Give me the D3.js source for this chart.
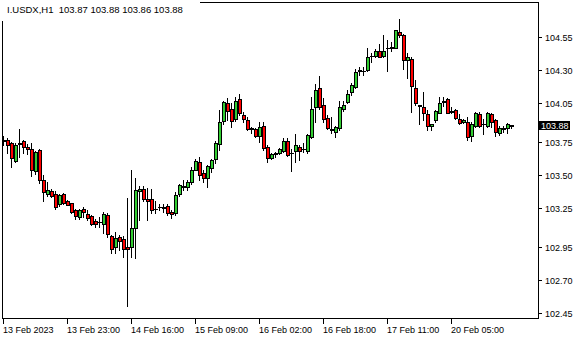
<!DOCTYPE html>
<html>
<meta charset="utf-8">
<style type="text/css">
  body { margin: 0; background: #fff; }
  text { font-family: "Liberation Sans", Arial, sans-serif; font-size: 9px; }
</style>
<body>
<div id="chart"></div>
<script src="https://cdn.jsdelivr.net/npm/d3@7"></script>
<script>
  const symbol = "I.USDX,H1";

  // hourly bars
  const opens = [103.76,103.77,103.74,103.61,103.735,103.76,103.715,103.70,103.53,103.69,
    103.46,103.355,103.38,103.355,103.28,103.355,103.30,103.285,103.235,103.18,
    103.24,103.205,103.19,103.15,103.14,103.13,103.195,103.035,102.955,103.025,
    103.015,102.95,102.955,103.095,103.38,103.39,103.315,103.315,103.245,103.26,
    103.255,103.265,103.22,103.21,103.355,103.41,103.405,103.45,103.54,103.60,
    103.515,103.48,103.55,103.625,103.735,103.91,104.045,104.00,103.925,104.075,
    103.96,103.92,103.85,103.85,103.795,103.87,103.71,103.63,103.66,103.665,
    103.685,103.755,103.67,103.685,103.71,103.695,103.68,103.79,104.015,104.16,
    104.035,103.93,103.85,103.83,103.855,104.00,104.055,104.135,104.17,104.295,
    104.295,104.30,104.405,104.405,104.44,104.405,104.465,104.465,104.47,104.59,
    104.565,104.375,104.38,104.16,104.03,104.02,103.965,103.87,103.915,103.975,
    104.055,104.075,103.98,103.995,103.925,103.905,103.90,103.80,103.875,103.965,
    103.885,103.875,103.965,103.915,103.82,103.85,103.855,103.87];
  const highs = [103.80,103.78,103.75,103.74,103.85,103.77,103.735,103.74,103.685,103.70,
    103.50,103.45,103.39,103.375,103.355,103.365,103.31,103.29,103.245,103.24,
    103.255,103.235,103.195,103.165,103.18,103.22,103.21,103.045,103.07,103.045,
    103.035,103.325,103.54,103.475,103.415,103.415,103.40,103.39,103.30,103.28,
    103.28,103.28,103.235,103.37,103.435,103.46,103.465,103.56,103.625,103.64,
    103.54,103.575,103.625,103.76,103.995,104.065,104.085,104.05,104.09,104.12,
    103.98,103.94,103.865,103.86,103.90,103.90,103.73,103.665,103.675,103.705,
    103.785,103.785,103.70,103.815,103.73,103.745,103.815,104.095,104.19,104.25,
    104.085,103.955,103.945,103.875,104.06,104.06,104.145,104.20,104.305,104.325,
    104.32,104.465,104.425,104.455,104.50,104.565,104.525,104.515,104.605,104.685,
    104.575,104.425,104.395,104.225,104.035,104.135,103.995,103.89,103.995,104.095,
    104.095,104.085,104.02,104.00,103.965,103.925,103.945,103.905,103.98,103.98,
    103.925,103.98,103.97,103.925,103.875,103.875,103.895,103.88];
  const lows = [103.73,103.67,103.56,103.60,103.64,103.665,103.66,103.49,103.51,103.44,
    103.30,103.34,103.33,103.24,103.265,103.28,103.27,103.21,103.165,103.165,
    103.18,103.155,103.12,103.105,103.105,103.055,103.025,102.91,102.91,102.93,
    102.875,102.50,102.875,102.865,103.155,103.305,103.16,103.21,103.21,103.235,
    103.22,103.195,103.17,103.195,103.34,103.385,103.385,103.43,103.535,103.46,
    103.45,103.41,103.525,103.59,103.69,103.89,103.92,103.865,103.91,103.955,
    103.905,103.84,103.82,103.79,103.75,103.69,103.60,103.62,103.64,103.66,
    103.675,103.645,103.53,103.60,103.615,103.675,103.67,103.78,103.90,104.005,
    103.905,103.85,103.82,103.79,103.845,103.99,104.05,104.11,104.165,104.26,
    104.26,104.295,104.36,104.40,104.395,104.40,104.295,104.44,104.465,104.55,
    104.31,104.235,103.98,104.03,103.89,103.92,103.845,103.84,103.905,103.97,
    104.025,103.97,103.975,103.925,103.89,103.895,103.77,103.755,103.865,103.865,
    103.815,103.865,103.865,103.80,103.805,103.83,103.82,103.86];
  const closes = [103.77,103.73,103.63,103.73,103.74,103.71,103.70,103.54,103.675,103.46,
    103.37,103.385,103.34,103.26,103.345,103.285,103.275,103.22,103.19,103.23,
    103.215,103.175,103.13,103.13,103.145,103.20,103.05,102.94,103.02,103.00,
    102.94,102.94,103.10,103.385,103.39,103.32,103.305,103.235,103.245,103.255,
    103.25,103.21,103.20,103.35,103.425,103.415,103.45,103.54,103.61,103.50,
    103.475,103.57,103.615,103.745,103.905,104.055,103.99,103.91,104.06,103.975,
    103.925,103.85,103.86,103.80,103.865,103.705,103.63,103.66,103.665,103.695,
    103.76,103.65,103.665,103.73,103.685,103.695,103.805,104.00,104.15,104.02,
    103.925,103.855,103.845,103.865,104.015,104.03,104.12,104.185,104.285,104.30,
    104.295,104.395,104.405,104.445,104.40,104.445,104.465,104.475,104.60,104.565,
    104.375,104.395,104.175,104.045,104.025,103.975,103.87,103.885,103.99,104.05,
    104.065,103.975,103.985,103.93,103.895,103.915,103.79,103.89,103.975,103.875,
    103.89,103.975,103.90,103.83,103.86,103.855,103.885,103.88];

  const priceTicks = [104.55, 104.30, 104.05, 103.75, 103.50, 103.25, 102.95, 102.70, 102.45];
  const timeLabels = ["13 Feb 2023", "13 Feb 23:00", "14 Feb 16:00", "15 Feb 09:00",
    "16 Feb 02:00", "16 Feb 18:00", "17 Feb 11:00", "20 Feb 05:00"];
  const barsPerLabel = 16;

  const width = 580,
    height = 340;

  const svg = d3.select("#chart").append("svg")
    .attr("width", width)
    .attr("height", height);

  const bars = d3.range(opens.length);
  const x = d3.scaleLinear().domain([0, opens.length - 1]).range([3, 511]);
  const y = d3.scaleLinear().domain([102.45, 104.55]).range([313, 37]);
  const px = v => Math.round(x(v));
  const py = v => Math.round(y(v));
  const bodyTop = i => py(Math.max(opens[i], closes[i]));
  const bodyBottom = i => py(Math.min(opens[i], closes[i]));

  // chart frame
  svg.append("rect")
    .attr("x", 2.5).attr("y", 2.5)
    .attr("width", 536).attr("height", 316)
    .attr("fill", "none").attr("stroke", "#000");

  const candle = svg.selectAll("g.bar")
    .data(bars)
    .enter()
    .append("g")
    .attr("class", "bar");

  // wicks
  candle.append("rect")
    .attr("x", i => px(i))
    .attr("y", i => py(highs[i]))
    .attr("width", 1)
    .attr("height", i => py(lows[i]) - py(highs[i]) + 1)
    .attr("fill", "#000");

  // bodies: black outline, coloured inside
  candle.append("rect")
    .attr("x", i => px(i) - 1)
    .attr("y", bodyTop)
    .attr("width", 4)
    .attr("height", i => bodyBottom(i) - bodyTop(i) + 1)
    .attr("fill", "#000");

  candle.filter(i => bodyBottom(i) - bodyTop(i) > 1)
    .append("rect")
    .attr("x", i => px(i))
    .attr("y", i => bodyTop(i) + 1)
    .attr("width", 2)
    .attr("height", i => bodyBottom(i) - bodyTop(i) - 1)
    .attr("fill", i => closes[i] >= opens[i] ? "#32cd32" : "#ff0000");

  // price scale on the right
  const yTicks = svg.selectAll("g.ytick")
    .data(priceTicks)
    .enter()
    .append("g")
    .attr("class", "ytick");

  yTicks.append("line")
    .attr("x1", 539).attr("x2", 542)
    .attr("y1", v => py(v) + 0.5).attr("y2", v => py(v) + 0.5)
    .attr("stroke", "#000");

  yTicks.append("text")
    .attr("x", 545)
    .attr("y", v => py(v) + 3.5)
    .text(v => v.toFixed(2));

  // last price marker
  const last = closes[closes.length - 1];
  svg.append("rect")
    .attr("x", 539).attr("y", py(last) - 4)
    .attr("width", 31).attr("height", 9)
    .attr("fill", "#000");
  svg.append("text")
    .attr("x", 541).attr("y", py(last) + 3.5)
    .attr("fill", "#fff")
    .text(last.toFixed(2));

  // time scale at the bottom
  const xTicks = svg.selectAll("g.xtick")
    .data(timeLabels)
    .enter()
    .append("g")
    .attr("class", "xtick");

  xTicks.append("line")
    .attr("x1", (d, j) => px(j * barsPerLabel) + 0.5)
    .attr("x2", (d, j) => px(j * barsPerLabel) + 0.5)
    .attr("y1", 319).attr("y2", 324)
    .attr("stroke", "#000");

  xTicks.append("text")
    .attr("x", (d, j) => px(j * barsPerLabel))
    .attr("y", 333)
    .text(d => d);

  // header with symbol and last bar OHLC, on a white label over the frame corner
  const n = opens.length - 1;
  svg.append("rect")
    .attr("x", 0).attr("y", 0)
    .attr("width", 200).attr("height", 21)
    .attr("fill", "#fff");
  svg.append("text")
    .attr("x", 7).attr("y", 13)
    .attr("xml:space", "preserve")
    .style("white-space", "pre")
    .style("font-size", "9.5px")
    .text(symbol + "  " + [opens[n], highs[n], lows[n], closes[n]].map(v => v.toFixed(2)).join(" "));
</script>
</body>
</html>
